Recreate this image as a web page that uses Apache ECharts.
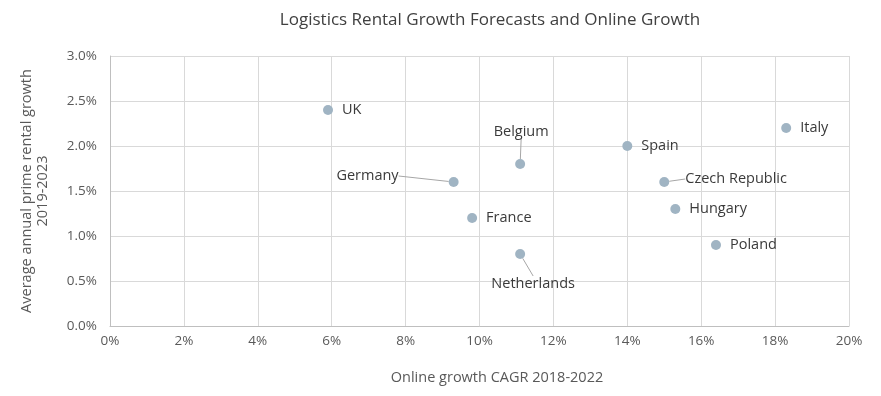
<!DOCTYPE html>
<html>
<head>
<meta charset="utf-8">
<script src="https://cdn.jsdelivr.net/npm/echarts@6/dist/echarts.min.js"></script>
<style>
  html, body { margin: 0; padding: 0; background: #fff; }
  #chart { width: 881px; height: 396px; }
</style>
</head>
<body>
<div id="chart"></div>
<script>
// 国家
const countries = ['UK', 'Germany', 'Belgium', 'France', 'Netherlands', 'Spain', 'Czech Republic', 'Hungary', 'Poland', 'Italy'];
// 线上增长 CAGR 2018-2022 (%)
const onlineGrowth = [5.9, 9.3, 11.1, 9.8, 11.1, 14.0, 15.0, 15.3, 16.4, 18.3];
// 年均租金增长 2019-2023 (%)
const rentalGrowth = [2.4, 1.6, 1.8, 1.2, 0.8, 2.0, 1.6, 1.3, 0.9, 2.2];

// 标签位置（样式）
const labelStyle = {
  'Germany': { position: 'left', dx: -41, dy: -6, line: true },
  'Belgium': { position: 'top', dx: 1, dy: -11, line: true },
  'Netherlands': { position: 'bottom', dx: 13, dy: 8, line: true },
  'Czech Republic': { position: 'right', dx: 7, dy: -3, line: true }
};

const font = "'Open Sans', sans-serif";
const chart = echarts.init(document.getElementById('chart'));

const points = countries.map((name, i) => {
  const s = labelStyle[name] || { position: 'right', dx: 0, dy: 0 };
  return {
    name: name,
    value: [onlineGrowth[i], rentalGrowth[i]],
    label: { position: s.position, distance: 9 },
    labelLine: { show: !!s.line }
  };
});

chart.setOption({
  animation: false,
  textStyle: { fontFamily: font },
  title: {
    text: 'Logistics Rental Growth Forecasts and Online Growth',
    left: 485,
    textAlign: 'center',
    top: 7,
    textStyle: { fontFamily: font, fontSize: 17, fontWeight: 'normal', color: '#404040' }
  },
  grid: { left: 110, right: 32, top: 56, bottom: 70, containLabel: false },
  xAxis: {
    type: 'value',
    min: 0, max: 20, interval: 2,
    name: 'Online growth CAGR 2018-2022',
    nameLocation: 'middle',
    nameGap: 44,
    nameTextStyle: { fontSize: 14.5, color: '#595959', padding: [0, 0, 0, 35] },
    axisLine: { show: true, lineStyle: { color: '#bfbfbf' } },
    axisTick: { show: false },
    axisLabel: { formatter: v => v + '%', color: '#595959', fontSize: 13.5, margin: 8 },
    splitLine: { show: true, lineStyle: { color: '#d9d9d9' } }
  },
  yAxis: {
    type: 'value',
    min: 0, max: 3, interval: 0.5,
    name: 'Average annual prime rental growth\n2019-2023',
    nameLocation: 'middle',
    nameGap: 59,
    nameTextStyle: { fontSize: 14.5, color: '#595959', lineHeight: 16 },
    axisLine: { show: true, lineStyle: { color: '#bfbfbf' } },
    axisTick: { show: false },
    axisLabel: { formatter: v => v.toFixed(1) + '%', color: '#595959', fontSize: 13.5, margin: 13 },
    splitLine: { show: true, lineStyle: { color: '#d9d9d9' } }
  },
  series: [{
    type: 'scatter',
    symbolSize: 10,
    itemStyle: { color: '#a0b4c3', opacity: 1 },
    label: {
      show: true,
      formatter: '{b}',
      fontSize: 14.5,
      color: '#3a3a3a'
    },
    labelLine: { show: false, lineStyle: { color: '#a6a6a6', width: 1 } },
    labelLayout: function (params) {
      const s = labelStyle[countries[params.dataIndex]];
      if (!s) return {};
      return { dx: s.dx, dy: s.dy };
    },
    data: points
  }]
});
</script>
</body>
</html>
